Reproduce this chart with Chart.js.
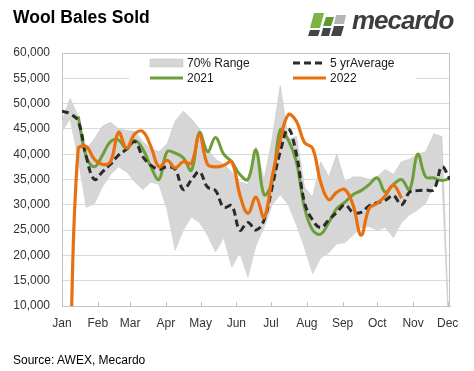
<!DOCTYPE html>
<html>
<head>
<meta charset="utf-8">
<script src="https://cdn.jsdelivr.net/npm/chart.js@4"></script>
<style>
  body { margin: 0; background: #fff; }
  #wrap { position: relative; width: 474px; height: 371px; background: #fff; overflow: hidden; }
  #c { position: absolute; left: 0; top: 0; }
  .title { position: absolute; left: 13px; top: 9px; font: bold 17.5px "Liberation Sans", Arial, sans-serif; line-height: 17.5px; color: #000; }
  .logo { position: absolute; left: 308px; top: 11px; height: 26px; }
  .logo svg { position: absolute; left: 0; top: 0; }
  .logo span { position: absolute; left: 44px; top: -6px; font: italic bold 26px "Liberation Sans", Arial, sans-serif; letter-spacing: -1px; color: #3d3d3d; white-space: nowrap; }
  .src { position: absolute; left: 13px; top: 354px; font: 12px "Liberation Sans", Arial, sans-serif; line-height: 12px; color: #000; }
</style>
</head>
<body>
<div id="wrap">
  <canvas id="c" width="474" height="371"></canvas>
  <div class="title">Wool Bales Sold</div>
  <div class="logo">
    <svg width="40" height="26" viewBox="0 0 40 26">
      <polygon points="6,2 16,2 12,17 2,17" fill="#7cb342"/>
      <polygon points="2,19 12,19 10,25 0,25" fill="#454545"/>
      <polygon points="18,6 26,6 23,15 15,15" fill="#5e9a2e"/>
      <polygon points="15,17 23,17 21,25 13,25" fill="#454545"/>
      <polygon points="28,4 38,4 36,13 26,13" fill="#b5b5b5"/>
      <polygon points="26,15 36,15 33,25 23,25" fill="#454545"/>
    </svg>
    <span>mecardo</span>
  </div>
  <div class="src">Source: AWEX, Mecardo</div>
</div>
<script>
// semanas de 0 a 48, eixo x em semanas desde 1 de janeiro
const monthLabels   = ['Jan', 'Feb', 'Mar', 'Apr', 'May', 'Jun', 'Jul', 'Aug', 'Sep', 'Oct', 'Nov', 'Dec'];
const monthStartDay = [0, 31, 59, 90, 120, 151, 181, 212, 243, 273, 304, 334];
const yTicks        = [10000, 15000, 20000, 25000, 30000, 35000, 40000, 45000, 50000, 55000, 60000];

const rangeHigh = [46500, 51000, 47500, 41000, 43000, 45500, 46300, 45000, 44700, 44500,
                   42500, 41000, 40500, 42000, 46500, 48500, 47000, 45000, 41000, 39000,
                   38000, 36500, 34500, 34000, 41500, 35000, 43000, 53500, 43000, 43500,
                   33500, 31500, 38500, 35500, 40000, 34500, 35500, 35500, 35000, 35500,
                   37000, 36000, 38500, 39000, 40000, 40500, 44000, 43500, 0];
const rangeLow  = [44500, 47000, 39000, 29500, 30200, 33500, 36000, 37500, 36500, 34500,
                   33000, 34500, 34000, 29000, 21000, 25000, 27600, 26500, 24000, 20700,
                   23500, 17700, 20500, 15700, 22000, 25500, 30000, 32000, 30000, 26000,
                   21500, 16400, 19500, 20500, 22300, 22500, 24000, 25500, 25700, 25000,
                   25500, 23500, 26500, 28000, 29000, 30300, 34000, 35000, 0];
const avg5yr    = [48500, 48000, 46500, 39500, 35000, 36500, 38000, 39800, 41000, 42500,
                   39500, 37800, 37000, 37500, 37000, 33000, 34900, 36500, 33500, 32800,
                   29500, 29800, 25000, 26500, 25000, 27000, 33500, 40500, 45000, 40000,
                   30500, 27000, 25500, 27000, 28500, 30000, 28500, 28500, 29800, 30400,
                   30900, 31800, 30000, 32500, 32800, 32900, 33000, 37500, 35000];
const sold2021  = [null, null, 47500, 39500, 37500, 39800, 42500, 42800, 41100, 42700,
                   41000, 37500, 35000, 40500, 40200, 39300, 36800, 44300, 40500, 43300,
                   40000, 38500, 36000, 35000, 40800, 32000, 34500, 44800, 42800, 38500,
                   29500, 25000, 24200, 26500, 29300, 30500, 32000, 32800, 34000, 35300,
                   32500, 34000, 35000, 33000, 40000, 35500, 35300, 34800, 35200];
const sold2022  = [null, 0, 41000, 41500, 39000, 38000, 38500, 44300, 41200, 44000,
                   44500, 41500, 37500, 38800, 37300, 38500, 38200, 43800, 38000, 37500,
                   37800, 38500, 32000, 28300, 31500, 27500, 35500, 42800, 47800, 46500,
                   42300, 41200, 34500, 31000, 32500, 33000, 30000, 24000, 29300, 30300,
                   31800, 33900, 31300, null, null, null, null, null, null];

const pts = arr => arr.map((v, i) => ({ x: i, y: v }));

const FONT = { family: '"Liberation Sans", Arial, sans-serif', size: 12 };
const TXT  = '#333333';

// legenda dentro da área do gráfico, em duas colunas, com fundo branco
const boxLegend = {
    id: 'boxLegend',
    beforeDatasetsDraw(chart) {
        const { ctx, chartArea: a } = chart;
        ctx.save();
        // contorno da área do gráfico
        ctx.strokeStyle = '#c4c4c4';
        ctx.lineWidth = 1;
        ctx.strokeRect(a.left + 0.5, a.top + 0.5, a.right - a.left - 1, a.bottom - a.top);

        // marcas do eixo x atravessando a linha do eixo
        const xs = chart.scales.x;
        ctx.strokeStyle = '#bfbfbf';
        xs.ticks.forEach(t => {
            const px = Math.round(xs.getPixelForValue(t.value)) + 0.5;
            ctx.beginPath();
            ctx.moveTo(px, a.bottom - 4);
            ctx.lineTo(px, a.bottom + 1);
            ctx.stroke();
        });

        const x0 = a.left + 67, y0 = a.top + 2;
        ctx.fillStyle = '#fff';
        ctx.fillRect(x0, y0, 287, 31);

        const items = [
            { ds: 0, col: 0, row: 0 },
            { ds: 2, col: 1, row: 0 },
            { ds: 3, col: 0, row: 1 },
            { ds: 4, col: 1, row: 1 }
        ];
        ctx.font = `${FONT.size}px ${FONT.family}`;
        ctx.textBaseline = 'middle';
        items.forEach(it => {
            const d  = chart.data.datasets[it.ds];
            const sx = x0 + 21 + it.col * 143;
            const sy = y0 + 8 + it.row * 15;
            if (it.ds === 0) {
                ctx.fillStyle = d.backgroundColor;
                ctx.fillRect(sx, sy - 4, 33, 8);
                ctx.strokeStyle = '#c0c0c0';
                ctx.lineWidth = 0.5;
                ctx.strokeRect(sx, sy - 4, 33, 8);
            } else {
                ctx.strokeStyle = d.borderColor;
                ctx.lineWidth = d.borderWidth;
                ctx.setLineDash(d.borderDash || []);
                ctx.beginPath();
                ctx.moveTo(sx, sy);
                ctx.lineTo(sx + 33, sy);
                ctx.stroke();
                ctx.setLineDash([]);
            }
            ctx.fillStyle = '#1a1a1a';
            ctx.fillText(d.label, sx + 37, sy + 0.5);
        });
        ctx.restore();
    }
};

new Chart(document.getElementById('c'), {
    type: 'line',
    data: {
        datasets: [
            {
                label: '70% Range',
                data: pts(rangeHigh),
                backgroundColor: '#d6d6d6',
                borderColor: '#c2c2c2',
                borderWidth: 0.6,
                pointRadius: 0,
                tension: 0,
                fill: '+1',
                order: 10
            },
            {
                label: 'low',
                data: pts(rangeLow),
                borderColor: '#c2c2c2',
                borderWidth: 0.6,
                pointRadius: 0,
                tension: 0,
                fill: false,
                order: 10
            },
            {
                label: '5 yrAverage',
                data: pts(avg5yr),
                borderColor: '#2b2b2b',
                borderWidth: 3,
                borderDash: [7, 4],
                pointRadius: 0,
                tension: 0.4,
                fill: false,
                order: 2
            },
            {
                label: '2021',
                data: pts(sold2021),
                borderColor: '#6e9e3a',
                borderWidth: 3,
                pointRadius: 0,
                tension: 0.4,
                fill: false,
                order: 3
            },
            {
                label: '2022',
                data: pts(sold2022),
                borderColor: '#e8700e',
                borderWidth: 3.2,
                pointRadius: 0,
                tension: 0.4,
                fill: false,
                order: 1
            }
        ]
    },
    options: {
        responsive: false,
        animation: false,
        layout: { padding: { top: 53, right: 24, left: 0, bottom: 0 } },
        plugins: {
            legend: { display: false },
            tooltip: { enabled: false }
        },
        scales: {
            x: {
                type: 'linear',
                min: 0,
                max: 48,
                afterFit(s) { s.height = 65; },
                afterBuildTicks(s) { s.ticks = monthStartDay.map(d => ({ value: d / 7 })); },
                ticks: {
                    autoSkip: false,
                    maxRotation: 0,
                    padding: 10,
                    color: TXT,
                    font: FONT,
                    callback: (v, i) => monthLabels[i]
                },
                grid: { drawOnChartArea: false, drawTicks: false },
                border: { color: '#bfbfbf' }
            },
            y: {
                min: 10000,
                max: 60000,
                afterFit(s) { s.width = 62; },
                afterBuildTicks(s) { s.ticks = yTicks.map(v => ({ value: v })); },
                ticks: {
                    padding: 12,
                    color: TXT,
                    font: FONT,
                    callback: v => v.toLocaleString('en-US')
                },
                grid: { color: '#d9d9d9', drawTicks: false },
                border: { color: '#bfbfbf' }
            }
        }
    },
    plugins: [boxLegend]
});
</script>
</body>
</html>
